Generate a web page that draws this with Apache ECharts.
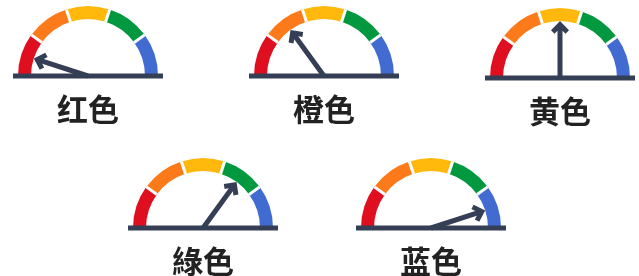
<!DOCTYPE html>
<html>
<head>
<meta charset="utf-8">
<script src="https://cdn.jsdelivr.net/npm/echarts@6/dist/echarts.min.js"></script>
<style>
  html, body {margin: 0; padding: 0; background: #ffffff;}
</style>
</head>
<body>
<div id="colorGauge" style="width: 639px;height: 276px;"></div>
<script>
// gauge names and needle values (0-100, five equal bands)
const gaugeNames = ['红色', '橙色', '黄色', '綠色', '蓝色'];
const gaugeValues = [10, 30, 50, 70, 90];
const bandColors = ['#e00f1f', '#fd7a1b', '#ffb80b', '#02983f', '#416bd1'];

// centre of each gauge in px
const gaugeCenters = [[88, 76], [324, 76], [560, 78], [203, 228], [431, 228]];

const darkColor = '#343f55';
const radius = 70;
const bandWidth = 13;

// arrow needle: shaft + open chevron head, pointing up
const arrowPath = 'path://M9 0L18 9L14.5 12.5L11.5 9.5L11.5 56L6.5 56L6.5 9.5L3.5 12.5L0 9Z';

let series = [];
let graphics = [];
gaugeNames.forEach(function (name, i) {
  series.push({
    type: 'gauge',
    center: gaugeCenters[i],
    radius: radius,
    startAngle: 180,
    endAngle: 0,
    min: 0,
    max: 100,
    splitNumber: 5,
    axisLine: {
      lineStyle: {
        width: bandWidth,
        color: bandColors.map(function (c, k) {
          return [(k + 1) / bandColors.length, c];
        })
      }
    },
    splitLine: {
      distance: -bandWidth,
      length: bandWidth,
      lineStyle: {color: '#ffffff', width: 3}
    },
    axisTick: {show: false},
    axisLabel: {show: false},
    anchor: {show: false},
    pointer: {
      icon: arrowPath,
      length: 57,
      width: 18,
      offsetCenter: [0, 0],
      itemStyle: {color: darkColor}
    },
    title: {
      offsetCenter: [0, 33],
      fontSize: 31,
      fontWeight: 'bold',
      color: '#222222',
      fontFamily: 'Noto Sans CJK SC'
    },
    detail: {show: false},
    data: [{value: gaugeValues[i], name: name}]
  });
  // dark base line under each gauge
  graphics.push({
    type: 'line',
    z: 100,
    shape: {
      x1: gaugeCenters[i][0] - radius - 5,
      y1: gaugeCenters[i][1],
      x2: gaugeCenters[i][0] + radius + 5,
      y2: gaugeCenters[i][1]
    },
    style: {stroke: darkColor, lineWidth: 5}
  });
});

let option = {
  animation: false,
  series: series,
  graphic: graphics
};

let colorGaugeChart = echarts.init(document.getElementById('colorGauge'));
colorGaugeChart.setOption(option);
</script>
</body>
</html>
